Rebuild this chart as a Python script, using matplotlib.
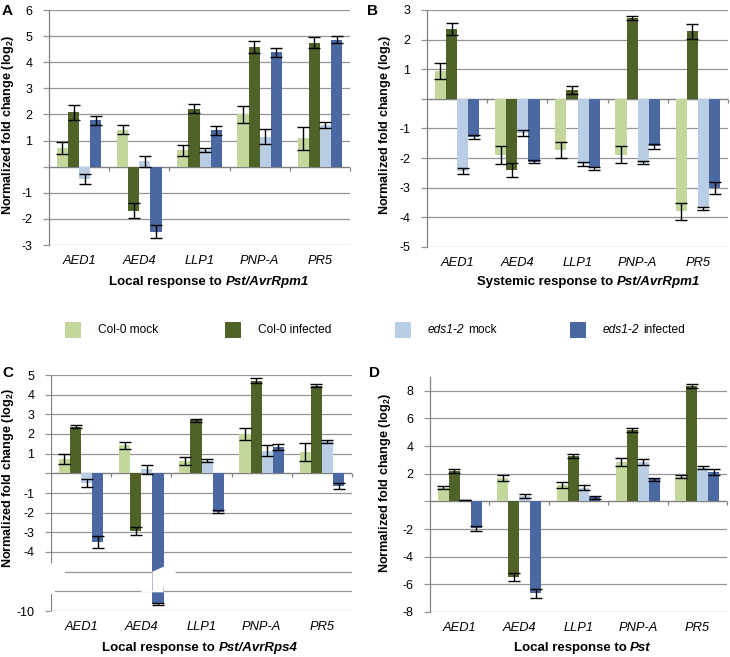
import numpy as np
import matplotlib
matplotlib.use("Agg")
import matplotlib.pyplot as plt
from matplotlib.patches import Polygon, Rectangle
from matplotlib.ticker import FuncFormatter

plt.rcParams['font.family'] = ['Liberation Sans', 'DejaVu Sans']
plt.rcParams['mathtext.default'] = 'regular'

W, H = 730, 657

genes = ["AED1", "AED4", "LLP1", "PNP-A", "PR5"]
colors = ["#c3d69b", "#4f6228", "#b9cde5", "#4a68a2"]

# A - local response to Pst/AvrRpm1
a_col_mock = [0.72, 1.42, 0.62, 2.00, 1.08]
a_col_inf = [2.08, -1.68, 2.22, 4.60, 4.75]
a_eds_mock = [-0.47, 0.20, 0.65, 1.15, 1.60]
a_eds_inf = [1.77, -2.50, 1.40, 4.38, 4.87]
a_col_mock_err = [0.24, 0.17, 0.20, 0.32, 0.45]
a_col_inf_err = [0.28, 0.27, 0.17, 0.23, 0.20]
a_eds_mock_err = [0.20, 0.22, 0.08, 0.30, 0.10]
a_eds_inf_err = [0.17, 0.25, 0.17, 0.17, 0.15]

# B - systemic response to Pst/AvrRpm1
b_col_mock = [0.95, -1.90, -1.72, -1.88, -3.80]
b_col_inf = [2.35, -2.40, 0.30, 2.73, 2.28]
b_eds_mock = [-2.45, -1.15, -2.20, -2.15, -3.70]
b_eds_inf = [-1.30, -2.12, -2.35, -1.60, -3.00]
b_col_mock_err = [0.27, 0.30, 0.27, 0.30, 0.30]
b_col_inf_err = [0.20, 0.25, 0.15, 0.08, 0.25]
b_eds_mock_err = [0.10, 0.10, 0.08, 0.05, 0.05]
b_eds_inf_err = [0.07, 0.05, 0.06, 0.08, 0.20]

# C - local response to Pst/AvrRps4
c_col_mock = [0.72, 1.42, 0.62, 2.00, 1.08]
c_col_inf = [2.38, -2.95, 2.70, 4.72, 4.45]
c_eds_mock = [-0.47, 0.20, 0.65, 1.15, 1.62]
c_eds_inf = [-3.50, -9.65, -1.95, 1.32, -0.65]
c_col_mock_err = [0.24, 0.17, 0.20, 0.30, 0.45]
c_col_inf_err = [0.10, 0.20, 0.07, 0.12, 0.08]
c_eds_mock_err = [0.20, 0.22, 0.08, 0.28, 0.10]
c_eds_inf_err = [0.30, 0.07, 0.08, 0.15, 0.17]

# D - local response to Pst
d_col_mock = [1.00, 1.72, 1.20, 2.85, 1.80]
d_col_inf = [2.22, -5.45, 3.30, 5.15, 8.35]
d_eds_mock = [0.10, 0.38, 1.00, 2.85, 2.45]
d_eds_inf = [-1.95, -6.65, 0.30, 1.60, 2.10]
d_col_mock_err = [0.12, 0.22, 0.20, 0.30, 0.12]
d_col_inf_err = [0.15, 0.30, 0.15, 0.15, 0.15]
d_eds_mock_err = [0.03, 0.15, 0.20, 0.25, 0.12]
d_eds_inf_err = [0.20, 0.35, 0.12, 0.12, 0.22]

GRID = "#969696"
AXIS = "#808080"
TS = 9.0


def px_axes(l, t, r, b):
    return [l / W, 1 - b / H, (r - l) / W, (b - t) / H]


def no_zero(v, pos):
    if abs(v) < 1e-9:
        return ""
    return f"{v:g}"


def draw_bars(ax, vals, errs, to_disp=lambda v: v):
    x = np.arange(len(genes)) + 0.5
    bw = 0.185
    for i, (v, e, c) in enumerate(zip(vals, errs, colors)):
        xs = x + (i - 1.5) * bw
        dv = np.array([to_disp(val) for val in v])
        ax.bar(xs, dv, bw, color=c, zorder=2, linewidth=0)
        ax.errorbar(xs, dv, yerr=e, fmt='none', ecolor='black',
                    elinewidth=1.0, capsize=4.5, capthick=1.0, zorder=5)


def style_axes(ax, ylim, ticks, grid=None, spine=True):
    ax.set_xlim(0, len(genes))
    ax.set_ylim(*ylim)
    for s in ax.spines.values():
        s.set_visible(False)
    if spine:
        ax.spines['left'].set_visible(True)
        ax.spines['left'].set_color(AXIS)
        ax.spines['left'].set_linewidth(0.9)
    ax.set_yticks(ticks)
    ax.yaxis.set_major_formatter(FuncFormatter(no_zero))
    ax.tick_params(axis='y', direction='out', length=4, width=0.9,
                   color=GRID, pad=8, labelsize=TS)
    ax.set_xticks(np.arange(len(genes)) + 0.5)
    ax.set_xticklabels(genes, fontstyle='italic', fontsize=9.3)
    ax.tick_params(axis='x', length=0, pad=7)
    for y in (ticks if grid is None else grid):
        if abs(y) > 1e-9:
            ax.axhline(y, color=GRID, lw=0.9, zorder=0.5)
    ax.axhline(0, color=AXIS, lw=1.0, zorder=1.5)
    # category separators on the zero line
    dy = (ylim[1] - ylim[0]) * 4 / (ax.get_position().height * H)
    ax.vlines(np.arange(1, len(genes) + 1), -dy, 0, color=AXIS, lw=0.9,
              zorder=1.5, clip_on=False)


def rich_text(fig, x_px, y_px, parts, size, ha='left'):
    r = fig.canvas.get_renderer()
    probe = fig.text(0, 0, "x x", fontsize=size, fontweight='bold')
    probe2 = fig.text(0, 0, "xx", fontsize=size, fontweight='bold')
    sp = (probe.get_window_extent(r).width - probe2.get_window_extent(r).width)
    probe.remove()
    probe2.remove()
    items = []
    for s, kw in parts:
        t = fig.text(0, 1 - y_px / H, s, fontsize=size, va='center', ha='left', **kw)
        items.append((t, t.get_window_extent(r).width))
    total = sum(w for _, w in items) + sp * (len(items) - 1)
    x = x_px - total / 2 if ha == 'center' else x_px
    for t, w in items:
        t.set_x(x / W)
        x += w + sp


fig = plt.figure(figsize=(W / 100, H / 100), dpi=100)

# panel A
axA = fig.add_axes(px_axes(49, 10, 350, 245))
style_axes(axA, (-3, 6), np.arange(-3, 7, 1))
draw_bars(axA, [a_col_mock, a_col_inf, a_eds_mock, a_eds_inf],
          [a_col_mock_err, a_col_inf_err, a_eds_mock_err, a_eds_inf_err])

# panel B
axB = fig.add_axes(px_axes(427, 10, 728, 247))
style_axes(axB, (-5, 3), np.arange(-5, 4, 1))
draw_bars(axB, [b_col_mock, b_col_inf, b_eds_mock, b_eds_inf],
          [b_col_mock_err, b_col_inf_err, b_eds_mock_err, b_eds_inf_err])


# panel C, broken axis: values below -4.5 are shifted up by 3
def c_disp(v):
    return v if v > -4.5 else v + 3


axC = fig.add_axes(px_axes(51, 375, 352, 611))
c_ticks = [5, 4, 3, 2, 1, 0, -1, -2, -3, -4, -7]
style_axes(axC, (-7, 5), c_ticks, grid=[5, 4, 3, 2, 1, -1, -2, -3, -4, -7],
           spine=False)
axC.yaxis.set_major_formatter(FuncFormatter(
    lambda v, p: "-10" if abs(v + 7) < 1e-9 else no_zero(v, p)))
axC.axvline(0, (-4.5 + 7) / 12, 1, color=AXIS, lw=0.9)
axC.axvline(0, 0, (-6.15 + 7) / 12, color=AXIS, lw=0.9)
axC.axhline(-5, 0.047, 1, color=GRID, lw=0.9, zorder=0.5)
axC.axhline(-6, 0.013, 1, color=GRID, lw=0.9, zorder=0.5)
draw_bars(axC, [c_col_mock, c_col_inf, c_eds_mock, c_eds_inf],
          [c_col_mock_err, c_col_inf_err, c_eds_mock_err, c_eds_inf_err],
          to_disp=c_disp)
axC.add_patch(Polygon([(1.685, -5.0), (1.87, -4.75), (2.07, -4.75), (2.07, -5.06),
                       (1.87, -5.82), (1.87, -6.05), (1.5, -6.05), (1.5, -5.95),
                       (1.685, -5.97)], closed=True, facecolor='white',
                      edgecolor='none', zorder=3))

# panel D
axD = fig.add_axes(px_axes(430, 377, 727, 612))
style_axes(axD, (-8, 9), np.arange(-8, 9, 2))
draw_bars(axD, [d_col_mock, d_col_inf, d_eds_mock, d_eds_inf],
          [d_col_mock_err, d_col_inf_err, d_eds_mock_err, d_eds_inf_err])

# y labels
ylab = "Normalized fold change (log$_2$)"
for x_px, y_px in [(8, 125), (385, 125), (8, 478), (385, 483)]:
    fig.text(x_px / W, 1 - y_px / H, ylab, rotation=90, ha='center', va='center',
             fontsize=9.1, fontweight='bold')

# panel letters
for s, x_px, y_px in [("A", 2, 11), ("B", 367, 11), ("C", 2, 373), ("D", 369, 373)]:
    fig.text(x_px / W, 1 - y_px / H, s, ha='left', va='center',
             fontsize=11, fontweight='bold')

bold = {'fontweight': 'bold'}
bold_it = {'fontweight': 'bold', 'fontstyle': 'italic'}
rich_text(fig, 209, 282, [("Local response to", bold), ("Pst/AvrRpm1", bold_it)], 9.5, 'center')
rich_text(fig, 589, 282, [("Systemic response to", bold), ("Pst/AvrRpm1", bold_it)], 9.5, 'center')
rich_text(fig, 200, 648, [("Local response to", bold), ("Pst/AvrRps4", bold_it)], 9.5, 'center')
rich_text(fig, 582, 648, [("Local response to", bold), ("Pst", bold_it)], 9.5, 'center')

# legend
leg_items = [
    [("Col-0 mock", {})],
    [("Col-0 infected", {})],
    [("eds1-2", {'fontstyle': 'italic'}), ("mock", {})],
    [("eds1-2", {'fontstyle': 'italic'}), ("infected", {})],
]
for (sq_x, tx), c, parts in zip([(65, 98), (225, 258), (395, 428), (570, 603)],
                                 colors, leg_items):
    fig.add_artist(Rectangle((sq_x / W, 1 - 338 / H), 16 / W, 16 / H,
                             transform=fig.transFigure, color=c, lw=0))
    rich_text(fig, tx, 330, parts, 8.6)

fig.savefig("out.png", dpi=100)
